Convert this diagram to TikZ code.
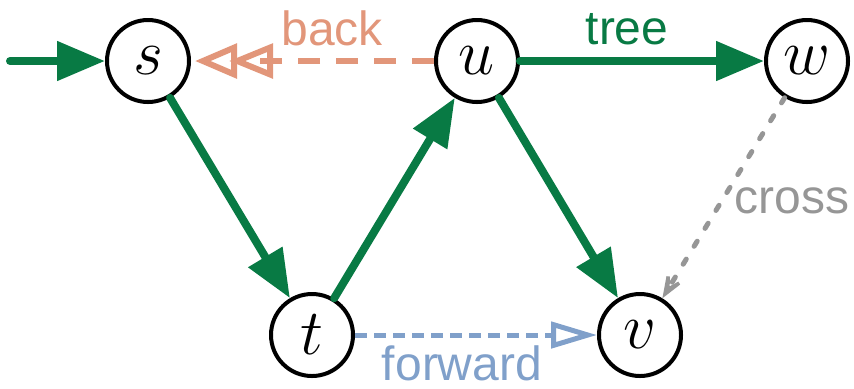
\documentclass[tikz,border=0pt]{standalone}
\usepackage{graphicx}
\usepackage{fontspec}
\setmainfont{Liberation Sans}
\usetikzlibrary{arrows.meta}
\definecolor{treegreen}{RGB}{8,122,68}
\definecolor{backsalmon}{RGB}{226,150,122}
\definecolor{fwdblue}{RGB}{128,160,202}
\definecolor{crossgray}{RGB}{150,150,150}
% vertex letter, math italic enlarged beyond the largest preset size
\newcommand{\vlabel}[1]{\scalebox{1.3}{$#1$}}
\begin{document}
\begin{tikzpicture}[x=0.5pt,y=-0.5pt,
  vertex/.style={circle,draw=black,line width=2pt,minimum size=41pt,inner sep=0pt,
    fill=white,font=\Huge},
  lbl/.style={font=\fontsize{24}{24}\selectfont,inner sep=0pt},
  treeedge/.style={draw=treegreen,line width=4pt,line cap=round,
    -{Triangle[length=24pt,width=19pt]}},
  backedge/.style={draw=backsalmon,line width=3pt,dash pattern=on 11pt off 8pt,
    -{Triangle[open,length=22pt,width=17pt,sep=-4pt]Triangle[open,length=21pt,width=17pt]},shorten >=2pt},
  fwdedge/.style={draw=fwdblue,line width=2.5pt,dash pattern=on 6pt off 3.5pt,
    -{Triangle[open,length=23pt,width=13pt]}},
  crossedge/.style={draw=crossgray,line width=2.5pt,line cap=round,dash pattern=on 3pt off 7.5pt,
    -{Stealth[length=21pt,width=16pt,inset=14pt,line cap=butt]}}
]
\useasboundingbox (0,0) rectangle (854,388);

% vertices
\node[vertex] (s) at (148,61) {\vlabel{s}};
\node[vertex] (u) at (477,61) {\vlabel{u}};
\node[vertex] (w) at (807,61) {\vlabel{w}};
\node[vertex] (t) at (312,335) {\vlabel{t}};
\node[vertex] (v) at (640,335) {\vlabel{v}};
\coordinate (start) at (10,61);

% tree edges
\draw[treeedge] (start) -- (s);
\draw[treeedge] (s) -- (t);
\draw[treeedge] (t) -- (u);
\draw[treeedge] (u) -- (v);
\draw[treeedge] (u) -- (w);

% non-tree edges
\draw[backedge] (u) -- (s);
\draw[fwdedge] (t) -- (v);
\draw[crossedge] (w) -- (v);

% edge labels
\node[lbl,text=backsalmon] (backlbl) at (332,28) {back};
\node[lbl,text=treegreen] (treelbl) at (627,29) {tree};
\node[lbl,text=crossgray] (crosslbl) at (792,201) {cross};
\node[lbl,text=fwdblue] (fwdlbl) at (462,363) {forward};
\end{tikzpicture}
\end{document}
